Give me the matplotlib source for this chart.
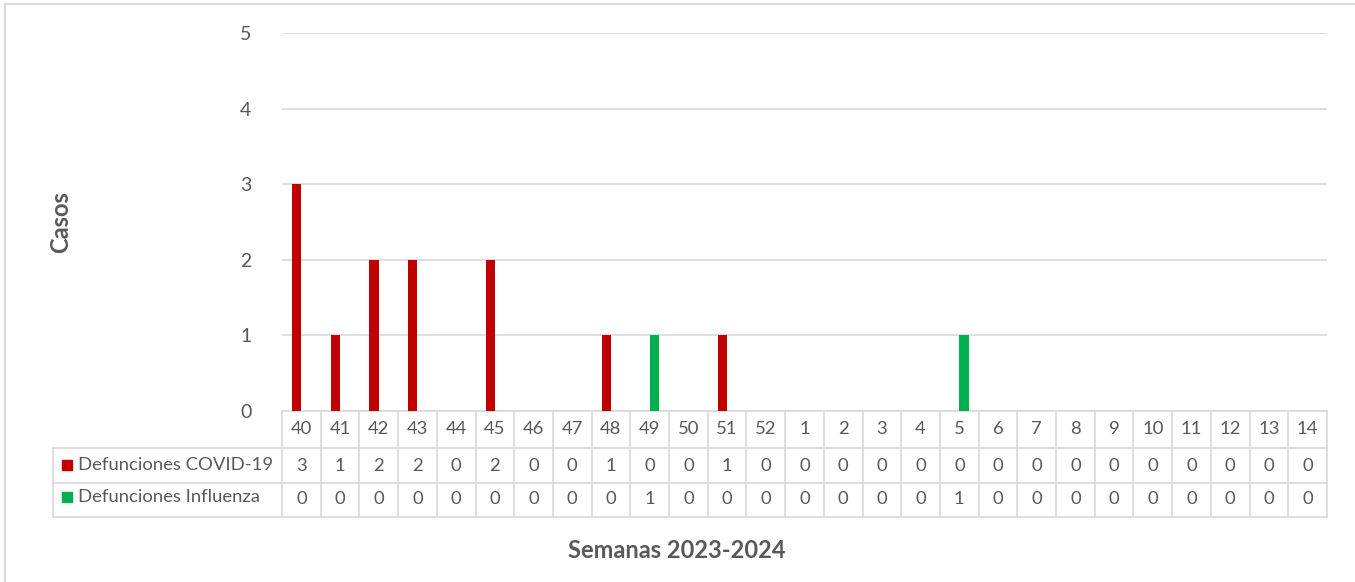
import numpy as np
import matplotlib.pyplot as plt
from matplotlib.transforms import blended_transform_factory
from matplotlib.patches import Rectangle

plt.rcParams['font.family'] = ['Lato', 'DejaVu Sans']

# Datos
semanas = ['40', '41', '42', '43', '44', '45', '46', '47', '48', '49', '50', '51', '52',
           '1', '2', '3', '4', '5', '6', '7', '8', '9', '10', '11', '12', '13', '14']
covid = [3, 1, 2, 2, 0, 2, 0, 0, 1, 0, 0, 1, 0, 0, 0, 0, 0, 0, 0, 0, 0, 0, 0, 0, 0, 0, 0]
influenza = [0, 0, 0, 0, 0, 0, 0, 0, 0, 1, 0, 0, 0, 0, 0, 0, 0, 1, 0, 0, 0, 0, 0, 0, 0, 0, 0]
series = ['Defunciones COVID-19', 'Defunciones Influenza']
colores = ['#C00000', '#00B050']

W, H = 1355, 582
gris = '#595959'
linea = '#D9D9D9'

fig = plt.figure(figsize=(W / 100, H / 100), dpi=100)

# area del grafico en pixeles
x0, x1 = 282, 1327
y_top, y_bot = 33, 411
ax = fig.add_axes([x0 / W, (H - y_bot) / H, (x1 - x0) / W, (y_bot - y_top) / H])

x = np.arange(len(semanas))
ancho = 0.24
ax.bar(x - ancho / 2, covid, ancho, color=colores[0], zorder=3)
ax.bar(x + ancho / 2, influenza, ancho, color=colores[1], zorder=3)

ax.set_xlim(-0.5, len(semanas) - 0.5)
ax.set_ylim(0, 5)
ax.set_yticks(range(6))
ax.yaxis.grid(True, color=linea, linewidth=1.2, zorder=0)
ax.tick_params(axis='y', length=0, pad=22, labelsize=14, labelcolor=gris)
ax.set_xticks([])
for s in ['top', 'right', 'left']:
    ax.spines[s].set_visible(False)
ax.spines['bottom'].set_color(linea)
ax.spines['bottom'].set_linewidth(1.2)

# tabla de datos
alto = y_bot - y_top
def fy(py):
    return (y_bot - py) / alto

trans = blended_transform_factory(ax.transData, ax.transAxes)
filas = [411, 448, 483, 517]
kw = dict(color=linea, linewidth=1.2, clip_on=False)
ancho_cat = (x1 - x0) / len(semanas)
xl = -0.5 - (x0 - 53) / ancho_cat

# lineas horizontales
for py in filas[1:]:
    ax.plot([xl, len(semanas) - 0.5], [fy(py), fy(py)], transform=trans, **kw)
# lineas verticales
for i in range(len(semanas) + 1):
    ax.plot([i - 0.5, i - 0.5], [fy(filas[0]), fy(filas[3])], transform=trans, **kw)
ax.plot([xl, xl], [fy(filas[1]), fy(filas[3])], transform=trans, **kw)

centros = [fy(429), fy(466), fy(499)]
for i, s in enumerate(semanas):
    ax.text(i, centros[0], s, transform=trans, ha='center', va='center',
            fontsize=13.3, color=gris)
    ax.text(i, centros[1], str(covid[i]), transform=trans, ha='center', va='center',
            fontsize=13.3, color=gris)
    ax.text(i, centros[2], str(influenza[i]), transform=trans, ha='center', va='center',
            fontsize=13.3, color=gris)

# claves de leyenda en la tabla
for j, (nombre, c) in enumerate(zip(series, colores)):
    yc = [465, 497][j]
    fig.patches.append(Rectangle((62 / W, (H - yc - 5) / H), 10 / W, 10 / H,
                                 transform=fig.transFigure, color=c))
    fig.text(78 / W, (H - yc) / H, nombre, ha='left', va='center',
             fontsize=13.3, color=gris)

# titulos de ejes
fig.text(61 / W, (H - 222) / H, 'Casos', rotation=90, ha='center', va='center',
         fontsize=17, fontweight='bold', color=gris)
fig.text(677 / W, (H - 550) / H, 'Semanas 2023-2024', ha='center', va='center',
         fontsize=17, fontweight='bold', color=gris)

# borde del area del grafico (recortado)
fig.add_artist(plt.Line2D([5.5 / W, 5.5 / W], [0, (H - 4) / H], color=linea,
                          linewidth=1.5, transform=fig.transFigure))
fig.add_artist(plt.Line2D([5.5 / W, 1], [(H - 4) / H, (H - 4) / H], color=linea,
                          linewidth=1.5, transform=fig.transFigure))

fig.savefig('out.png', dpi=100)
